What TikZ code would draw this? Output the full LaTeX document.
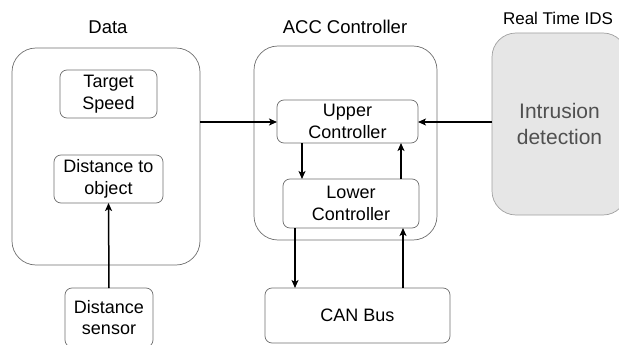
\documentclass[tikz,border=0pt]{standalone}
\usepackage{fontspec}
\setmainfont{Liberation Sans}
\usetikzlibrary{arrows.meta}
\definecolor{edge}{RGB}{110,110,110}
\definecolor{idsfill}{RGB}{230,230,230}
\definecolor{idsedge}{RGB}{160,160,160}
\definecolor{idstext}{RGB}{80,80,80}
\begin{document}
\begin{tikzpicture}[x=1pt,y=-1pt,
  box/.style={draw=edge,line width=0.7pt,rounded corners=7pt,inner sep=0pt,outer sep=0pt,
    align=center,font=\fontsize{18}{21.5}\selectfont},
  bigbox/.style={box,rounded corners=24pt},
  lbl/.style={font=\fontsize{18.5}{22}\selectfont,inner sep=0pt},
  arr/.style={line width=1.5pt,-{Stealth[length=8pt,width=7pt,inset=2pt]}}]
\clip (0,0) rectangle (619,345);
\useasboundingbox (0,0) rectangle (619,345);
\node[bigbox,minimum width=188pt,minimum height=217pt] (data) at (106,156.5) {};
\node[box,minimum width=97pt,minimum height=48pt] (target) at (108.5,94) {Target\\Speed};
\node[box,minimum width=109pt,minimum height=48pt] (dist) at (108.5,179) {Distance to\\object};
\node[box,minimum width=88pt,minimum height=59pt] (sensor) at (109,317.5) {Distance\\sensor};
\node[bigbox,minimum width=183pt,minimum height=194pt] (acc) at (345.5,143) {};
\node[box,minimum width=141pt,minimum height=43pt] (upper) at (347.5,121.5) {Upper\\Controller};
\node[box,minimum width=136pt,minimum height=49pt] (lower) at (351,203.5) {Lower\\Controller};
\node[box,minimum width=185pt,minimum height=55pt] (can) at (357.5,315.5) {CAN Bus};
\node[bigbox,draw=idsedge,fill=idsfill,text=idstext,minimum width=135pt,minimum height=182pt,
  font=\fontsize{21}{26.5}\selectfont] (ids) at (559.5,124) {Intrusion\\detection};
\node[lbl] (ldata) at (108,27) {Data};
\node[lbl] (lacc) at (345,27) {ACC Controller};
\node[lbl,font=\fontsize{17}{20}\selectfont] (lids) at (558,18) {Real Time IDS};
\coordinate (xa) at (302,0);
\coordinate (xb) at (401,0);
\coordinate (xc) at (295,0);
\coordinate (xd) at (403,0);
\coordinate (yh) at (0,122);
\draw[arr] (sensor.north) -- (dist.south);
\draw[arr] (data.east |- yh) -- (upper.west |- yh);
\draw[arr] (ids.west |- yh) -- (upper.east |- yh);
\draw[arr] (upper.south -| xa) -- (lower.north -| xa);
\draw[arr] (lower.north -| xb) -- (upper.south -| xb);
\draw[arr] (lower.south -| xc) -- (can.north -| xc);
\draw[arr] (can.north -| xd) -- (lower.south -| xd);
\end{tikzpicture}
\end{document}
